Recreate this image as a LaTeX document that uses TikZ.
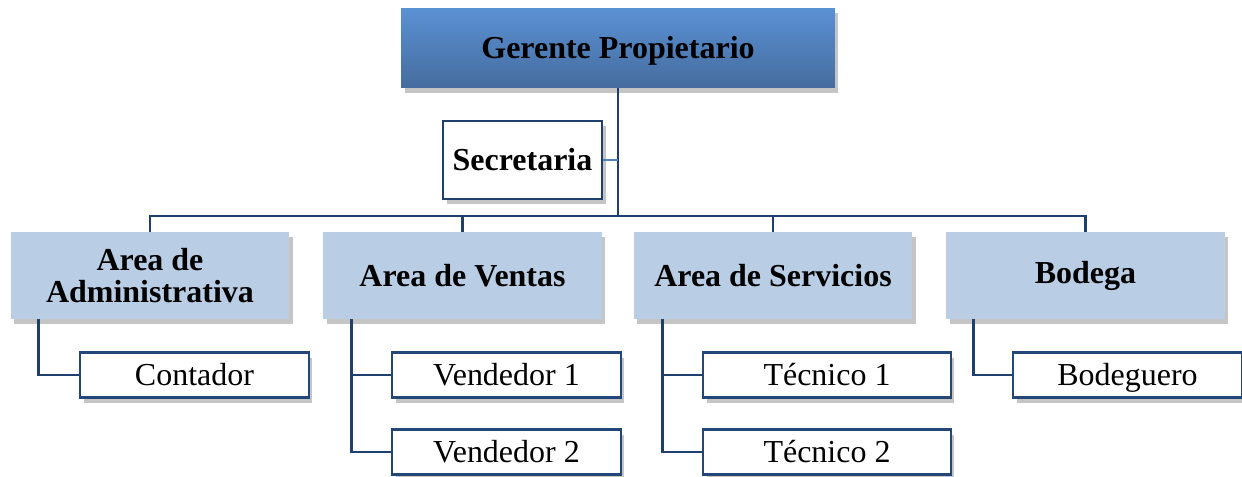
\documentclass[tikz,border=0pt]{standalone}
\usepackage{fontspec}
\setmainfont{Liberation Serif}
\usetikzlibrary{shadows}
\definecolor{navy}{HTML}{1F3F6E}
\definecolor{boxline}{HTML}{24477A}
\definecolor{areafill}{HTML}{B9CDE5}
\definecolor{toptop}{HTML}{5A91D4}
\definecolor{topbot}{HTML}{466C9E}
\definecolor{seclink}{HTML}{4F81BD}

\begin{document}
\begin{tikzpicture}[x=0.02cm,y=-0.02cm,
    shade/.style={drop shadow={shadow xshift=2pt,shadow yshift=-3pt,fill=black!45}},
    jefe/.style={shade,top color=toptop,bottom color=topbot,minimum width=8.68cm,minimum height=1.6cm,
      text height=12pt,text depth=0.5pt,font=\fontsize{18.2}{18.5}\selectfont\bfseries},
    area/.style={shade,fill=areafill,minimum width=5.58cm,minimum height=1.74cm,align=center,
      font=\fontsize{18.2}{18.5}\selectfont\bfseries},
    puesto/.style={shade,draw=boxline,fill=white,line width=1.5pt,minimum width=4.58cm,minimum height=0.9cm,
      inner sep=0pt,text height=12pt,text depth=0.5pt,font=\fontsize{18.2}{18.5}\selectfont},
    link/.style={draw=navy,line width=1.7pt}]
    \useasboundingbox (0,0) rectangle (1242,477);

    \node[jefe] (gerente) at (618,48) {Gerente Propietario};
    \node[puesto,draw=navy,minimum width=3.18cm,minimum height=1.56cm,font=\fontsize{18.2}{18.5}\selectfont\bfseries]
      (secretaria) at (522.5,160) {Secretaria};

    \node[area] (admin) at (150,275.5) {Area de\\Administrativa};
    \node[area] (ventas) at (462.5,275.5) {Area de Ventas};
    \node[area] (servicios) at (773,275.5) {Area de Servicios};
    \node[area] (bodega) at (1085.5,275.5) {Bodega};

    \node[puesto] (contador) at (194.5,375) {Contador};
    \node[puesto] (vendedor1) at (506.5,375) {Vendedor 1};
    \node[puesto] (vendedor2) at (506.5,452) {Vendedor 2};
    \node[puesto,minimum width=4.96cm] (tecnico1) at (827,375) {Técnico 1};
    \node[puesto,minimum width=4.96cm] (tecnico2) at (827,452) {Técnico 2};
    \node[puesto] (bodeguero) at (1127.5,375) {Bodeguero};

    \coordinate (bus) at (618,216);
    \path[link] (gerente.south) -- (bus) -| (admin.north)
      (bus) -| (ventas.north) (bus) -| (servicios.north) (bus) -| (bodega.north);
    \draw[seclink,line width=1.2pt] (secretaria.east) -- (secretaria.east -| gerente.south);

    \path[link] ([xshift=0.57cm]admin.south west) |- (contador.west)
      ([xshift=0.57cm]ventas.south west) |- (vendedor1.west)
      ([xshift=0.57cm]ventas.south west) |- (vendedor2.west)
      ([xshift=0.58cm]servicios.south west) |- (tecnico1.west)
      ([xshift=0.58cm]servicios.south west) |- (tecnico2.west)
      ([xshift=0.56cm]bodega.south west) |- (bodeguero.west);
  \end{tikzpicture}
\end{document}
